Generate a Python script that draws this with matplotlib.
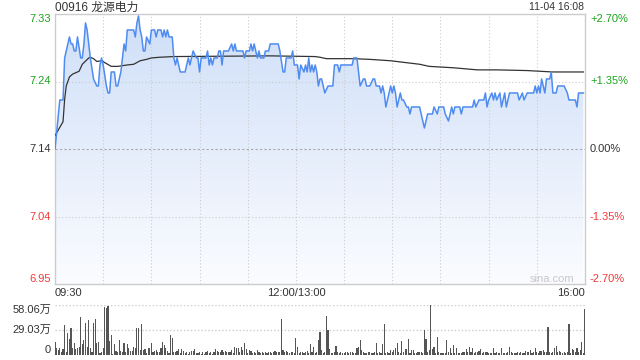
import numpy as np
import matplotlib
matplotlib.use("Agg")
import matplotlib.pyplot as plt
from matplotlib.colors import LinearSegmentedColormap
from matplotlib.patches import Polygon
import matplotlib.transforms as mtransforms

plt.rcParams["font.family"] = ["Liberation Sans", "Noto Sans CJK SC", "DejaVu Sans"]

title = "00916 龙源电力"
stamp = "11-04 16:08"
prev_close = 7.14

# trading minutes after 09:30 (lunch break removed), price in HKD
price_min = [0, 3, 5, 6, 9, 10, 11, 12, 13, 14, 16, 17, 18, 19, 20, 21, 22, 24, 26, 27,
             28, 29, 30, 32, 33, 34, 35, 37, 38, 39, 41, 42, 43, 44, 45, 49, 50, 51, 52, 53,
             54, 55, 56, 57, 59, 60, 62, 63, 64, 66, 67, 68, 69, 70, 71, 73, 74, 75, 76, 78,
             81, 82, 83, 84, 85, 86, 88, 89, 90, 91, 94, 95, 96, 97, 98, 99, 101, 102, 103, 104,
             105, 108, 110, 111, 112, 113, 117, 118, 119, 121, 122, 123, 124, 125, 126, 127, 128, 130, 131, 133,
             134, 139, 140, 142, 143, 144, 147, 148, 149, 151, 152, 153, 155, 156, 157, 158, 159, 160, 161, 162,
             163, 164, 165, 166, 168, 170, 173, 174, 176, 177, 178, 185, 186, 188, 189, 190, 192, 193, 194, 196,
             198, 199, 200, 202, 203, 204, 205, 206, 209, 210, 211, 212, 213, 214, 215, 216, 217, 219, 220, 221,
             222, 227, 228, 230, 231, 232, 235, 236, 238, 239, 242, 243, 245, 246, 247, 248, 249, 252, 253, 254,
             260, 261, 262, 264, 267, 268, 269, 270, 272, 273, 274, 275, 277, 278, 279, 280, 281, 282, 283, 288,
             289, 291, 292, 294, 298, 299, 300, 301, 302, 303, 305, 306, 308, 309, 310, 312, 313, 317, 319, 320,
             322, 323, 324, 325, 326, 329]
price = [7.14, 7.21, 7.21, 7.27, 7.30, 7.29, 7.29, 7.28, 7.28, 7.30, 7.27, 7.27, 7.29, 7.32, 7.31, 7.29, 7.27, 7.24, 7.23, 7.23,
         7.26, 7.27, 7.26, 7.23, 7.22, 7.22, 7.25, 7.25, 7.23, 7.23, 7.25, 7.27, 7.29, 7.28, 7.31, 7.31, 7.30, 7.32, 7.33, 7.31,
         7.30, 7.28, 7.28, 7.30, 7.29, 7.31, 7.31, 7.30, 7.31, 7.31, 7.30, 7.31, 7.30, 7.31, 7.30, 7.30, 7.27, 7.26, 7.27, 7.25,
         7.25, 7.26, 7.27, 7.26, 7.27, 7.28, 7.27, 7.27, 7.25, 7.27, 7.27, 7.28, 7.26, 7.27, 7.26, 7.27, 7.27, 7.28, 7.28, 7.26,
         7.28, 7.28, 7.29, 7.28, 7.29, 7.28, 7.28, 7.27, 7.28, 7.28, 7.29, 7.28, 7.29, 7.28, 7.27, 7.28, 7.27, 7.27, 7.28, 7.28,
         7.29, 7.29, 7.28, 7.25, 7.25, 7.27, 7.27, 7.28, 7.26, 7.26, 7.24, 7.26, 7.25, 7.26, 7.25, 7.27, 7.25, 7.26, 7.25, 7.26,
         7.25, 7.23, 7.24, 7.24, 7.22, 7.23, 7.23, 7.26, 7.26, 7.25, 7.26, 7.26, 7.27, 7.27, 7.25, 7.23, 7.24, 7.24, 7.23, 7.23,
         7.24, 7.24, 7.23, 7.23, 7.22, 7.23, 7.22, 7.20, 7.23, 7.22, 7.23, 7.22, 7.20, 7.21, 7.22, 7.21, 7.21, 7.20, 7.20, 7.19,
         7.20, 7.20, 7.19, 7.17, 7.18, 7.19, 7.19, 7.20, 7.19, 7.20, 7.20, 7.19, 7.18, 7.19, 7.20, 7.19, 7.20, 7.20, 7.19, 7.20,
         7.20, 7.21, 7.20, 7.21, 7.21, 7.22, 7.20, 7.21, 7.22, 7.21, 7.22, 7.21, 7.22, 7.20, 7.21, 7.22, 7.20, 7.21, 7.22, 7.22,
         7.21, 7.22, 7.21, 7.22, 7.22, 7.23, 7.22, 7.23, 7.22, 7.24, 7.22, 7.24, 7.24, 7.25, 7.22, 7.22, 7.23, 7.23, 7.22, 7.21,
         7.21, 7.21, 7.21, 7.20, 7.22, 7.22]

avg_min = [0, 5, 6, 7, 9, 11, 15, 17, 21, 22, 24, 26, 29, 32, 35, 39, 45, 49, 53, 57,
           60, 65, 74, 134, 162, 165, 169, 186, 196, 209, 227, 233, 248, 263, 275, 294, 310, 329]
avg_price = [7.159, 7.179, 7.211, 7.230, 7.243, 7.247, 7.251, 7.261, 7.270, 7.271, 7.269, 7.265, 7.266, 7.262, 7.258, 7.258,
             7.260, 7.261, 7.266, 7.268, 7.270, 7.271, 7.272, 7.273, 7.272, 7.271, 7.269, 7.269, 7.268, 7.266, 7.261, 7.258,
             7.256, 7.253, 7.253, 7.252, 7.250, 7.250]

# volume per minute, in 万 shares (minute 0 .. 330)
volume = [15.5, 8.5, 6, 7.7, 3, 7, 34.8, 4, 25, 19,
          31.7, 8.5, 13.5, 7, 8.5, 9.7, 43.7, 12.4, 17.4, 36.8,
          9.7, 40.6, 7.7, 4, 36.8, 41.8, 13.5, 15.5, 2, 3.9,
          8, 55.3, 54.2, 57.3, 16.3, 23.2, 1, 12.4, 5, 3.9,
          17.4, 4.6, 3.1, 13.5, 3.9, 12.4, 7.7, 4.6, 4.6, 9.7,
          7.7, 31, 31.7, 5.8, 35.6, 5.8, 7, 2, 8.5, 8.5,
          13.5, 3.1, 4.6, 5.8, 3.9, 3, 8.5, 15.5, 11.6, 8.5,
          4.6, 2, 23.2, 19.4, 3.1, 3.9, 4.6, 7, 2, 7,
          4.6, 2, 3.1, 0.8, 3.9, 4.6, 4.6, 7, 2, 2,
          3.1, 0.8, 3.1, 1.5, 3, 4.6, 2, 3.9, 0.8, 3.1,
          7, 4.6, 3.1, 3.9, 5.8, 3.1, 4.6, 4, 3.9, 3.1,
          5.8, 2, 9.7, 8.5, 7.7, 3, 9.7, 5.8, 13.5, 7,
          2, 5.8, 4.6, 2, 3.1, 1.9, 5.4, 3.1, 1.9, 3.1,
          1.9, 3.1, 1.9, 3.9, 3.1, 1.9, 3.9, 5, 3.9, 3.9,
          3, 41.4, 5.8, 3.1, 4.6, 3.9, 1.9, 3.1, 3.9, 1.9,
          19.4, 8.9, 1.9, 3.9, 3.1, 1.9, 3.9, 4.6, 1.9, 12.4,
          3.9, 8.9, 1.9, 3.9, 17.4, 26.3, 5.8, 1.9, 3.9, 45.3,
          29, 7, 1.9, 1.9, 3.9, 10.8, 3.1, 1.9, 3.9, 1.9,
          1.9, 3.9, 3.1, 1.9, 3.1, 3.1, 1.9, 1.9, 7.7, 9.7,
          17.4, 5.8, 3.1, 1.9, 1.9, 3.1, 3.1, 1.9, 1.9, 3.1,
          13.5, 1.9, 3.9, 1.9, 12.4, 35.6, 1.9, 3.9, 1.9, 5.8,
          3.1, 5.8, 8.5, 13.5, 3.9, 1.9, 16.3, 3.1, 7, 7,
          18.6, 2, 5.8, 5.8, 1.9, 1.9, 3, 3.9, 3.9, 1.9,
          29, 18.6, 3.9, 5.8, 58.06, 7, 9.7, 1.9, 20.5, 3.9,
          1.9, 1.9, 1.9, 1.9, 17.4, 3.9, 7.7, 1.9, 11.6, 1.9,
          7.7, 1.9, 1.9, 1.9, 3.9, 3.1, 7, 3.9, 9.7, 3.9,
          7.7, 1.9, 3.1, 3.9, 4.6, 7, 1.9, 3.9, 3.9, 3.9,
          1.9, 1.9, 1.9, 8.5, 1.9, 3.9, 1.9, 1.9, 8.5, 1.9,
          1.9, 1.9, 3.9, 9.7, 3.9, 1.9, 1.9, 1.9, 3.1, 1.9,
          3.1, 1.9, 1.9, 4.6, 3.1, 3.9, 5.8, 1.9, 3.1, 8.5,
          3.9, 1.9, 4.6, 4.6, 5.8, 3.9, 3.9, 33, 3.1, 1.9,
          3.1, 7.7, 10.8, 3.9, 4.6, 3.1, 1.9, 3.1, 1.9, 3.1,
          35.6, 1.9, 7, 5.8, 3.9, 8.5, 3.1, 5.8, 15.5, 1.9, 53.4]
vol_max = 58.06

pct_levels = [2.70, 1.35, 0.0, -1.35, -2.70]
time_labels = ["09:30", "12:00/13:00", "16:00"]
total_min = 330

green = "#1ea41e"
red = "#f03a3a"
dark = "#333333"
grid = "#cccccc"

fig = plt.figure(figsize=(6.4, 3.6), dpi=100)
ax = fig.add_axes([55 / 640, 1 - 284 / 360, 530 / 640, 270 / 360])
axv = fig.add_axes([55 / 640, 5 / 360, 530 / 640, 50 / 360])

levels = [prev_close * (1 + p / 100) for p in pct_levels]
ylo, yhi = levels[-1], levels[0]
ax.set_xlim(0, total_min)
ax.set_ylim(ylo, yhi)

# gradient fill under the price line
cmap = LinearSegmentedColormap.from_list("fill", ["#fbfcff", "#cfdff8"])
grad = np.linspace(0, 1, 256).reshape(-1, 1)
img = ax.imshow(grad, cmap=cmap, origin="lower", aspect="auto",
                extent=[0, total_min, ylo, yhi], zorder=1)
poly = np.column_stack([[price_min[0]] + price_min + [price_min[-1]],
                        [ylo] + price + [ylo]])
clip = Polygon(poly, closed=True, transform=ax.transData, facecolor="none", edgecolor="none")
ax.add_patch(clip)
img.set_clip_path(clip)

for t in range(30, total_min, 30):
    ax.axvline(t, color=grid, lw=0.8, ls=(0, (1, 2)), zorder=2)
for lv, p in zip(levels[1:-1], pct_levels[1:-1]):
    if p == 0:
        ax.axhline(lv, color="#aaaaaa", lw=0.8, ls=(0, (2, 2)), zorder=2)
    else:
        ax.axhline(lv, color=grid, lw=0.8, ls=(0, (1, 2)), zorder=2)

ax.plot(price_min, price, color="#4f8cf0", lw=1.1, zorder=4)
ax.plot(avg_min, avg_price, color=dark, lw=0.9, zorder=3)

ax.set_xticks([])
ax.set_yticks([])
for s in ax.spines.values():
    s.set_color("#cccccc")
    s.set_linewidth(1)

# price labels left, percent labels right
left = mtransforms.blended_transform_factory(fig.transFigure, ax.transData)
for i, (lv, p) in enumerate(zip(levels, pct_levels)):
    col = green if p > 0 else (red if p < 0 else dark)
    va = "top" if i == 0 else ("bottom" if i == len(levels) - 1 else "center")
    ax.text(51 / 640, lv, "%.2f" % lv, transform=left, ha="right", va=va, color=col, fontsize=8)
    txt = ("+%.2f%%" % p) if p > 0 else ("%.2f%%" % p)
    ax.text(590 / 640, lv, txt, transform=left, ha="left", va=va, color=col, fontsize=8)

fig.text(55 / 640, 1 - 7.5 / 360, title, ha="left", va="center", color=dark, fontsize=8.5)
fig.text(584 / 640, 1 - 7 / 360, stamp, ha="right", va="center", color=dark, fontsize=7.5)
fig.text(552 / 640, 1 - 279 / 360, "sina.com", ha="center", va="center", color="#c8c8c8", fontsize=8)

fig.text(55 / 640, 1 - 293 / 360, time_labels[0], ha="left", va="center", color=dark, fontsize=8)
fig.text(296 / 640, 1 - 293 / 360, time_labels[1], ha="center", va="center", color=dark, fontsize=8)
fig.text(585 / 640, 1 - 293 / 360, time_labels[2], ha="right", va="center", color=dark, fontsize=8)

# volume panel
axv.set_xlim(0, total_min)
axv.set_ylim(0, vol_max)
axv.bar(np.arange(len(volume)), volume, width=0.7, color="#555555", linewidth=0, zorder=3)
axv.axhline(vol_max, color=grid, lw=1, ls=(0, (1, 1.5)), zorder=1)
axv.axhline(vol_max / 2, color=grid, lw=1, ls=(0, (1, 1.5)), zorder=1)
axv.set_xticks([])
axv.set_yticks([])
for s in axv.spines.values():
    s.set_visible(False)

vleft = mtransforms.blended_transform_factory(fig.transFigure, axv.transData)
axv.text(51 / 640, vol_max, "%.2f万" % vol_max, transform=vleft, ha="right", va="top", color=dark, fontsize=8)
axv.text(51 / 640, vol_max / 2, "%.2f万" % (vol_max / 2), transform=vleft, ha="right", va="center", color=dark, fontsize=8)
axv.text(51 / 640, 0, "0", transform=vleft, ha="right", va="bottom", color=dark, fontsize=8)

fig.savefig("out.png", dpi=100)
